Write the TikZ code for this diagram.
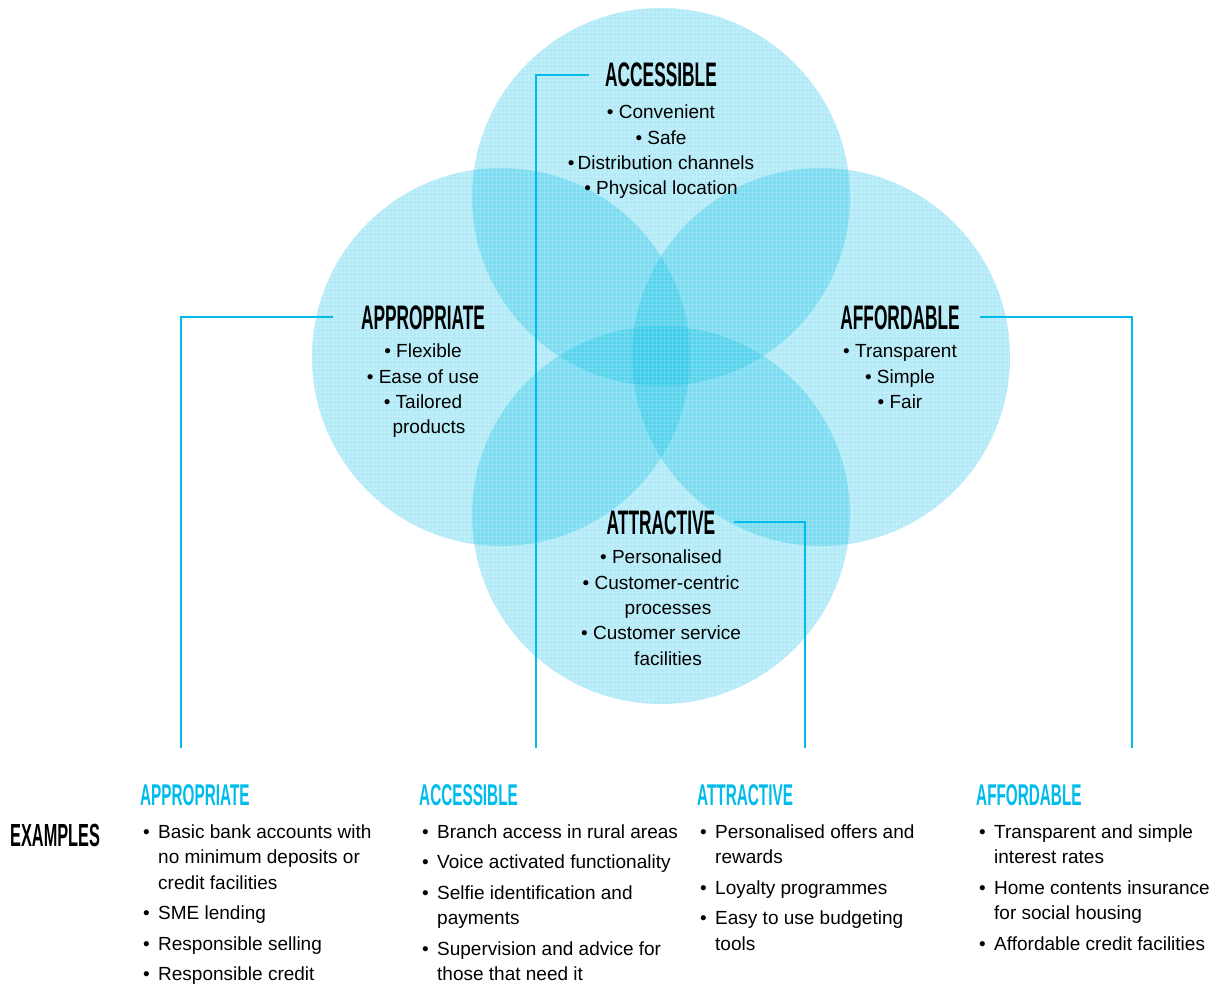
\documentclass[tikz,border=0pt]{standalone}
\usepackage{fontspec}
\setmainfont{Liberation Sans}
\newfontfamily\headfont[FakeStretch=0.51]{Liberation Sans Bold}
\definecolor{venn}{RGB}{0,186,228}
\definecolor{linkcyan}{RGB}{0,188,235}
% bullet with its hanging gap, and the indent of a wrapped line
\newcommand\bul{\makebox[18pt][l]{\hspace{3pt}\textbullet}}
\newcommand\cont{\hspace*{18pt}}
\tikzset{
  ring/.style={fill=venn, fill opacity=0.3, draw=none},
  bighead/.style={inner sep=0pt, anchor=base, font=\headfont\fontsize{34}{34}\selectfont},
  smallhead/.style={inner sep=0pt, anchor=base west, text=linkcyan, font=\headfont\fontsize{30}{30}\selectfont},
  inner/.style={inner sep=0pt, anchor=north, align=center, font=\fontsize{19}{25.3}\selectfont},
  col/.style={inner sep=0pt, anchor=north west, align=left, font=\fontsize{19}{25.5}\selectfont},
  link/.style={draw=linkcyan, line width=2.2pt}
}
\begin{document}
\begin{tikzpicture}[x=1pt,y=-1pt]
\useasboundingbox (0,0) rectangle (1225,987);

% four overlapping circles
\fill[ring] (661,197) circle (189);
\fill[ring] (501,357) circle (189);
\fill[ring] (821,357) circle (189);
\fill[ring] (661,515) circle (189);

% fine screen texture over the circles
\begin{scope}
  \clip (661,197) circle (189) (501,357) circle (189) (821,357) circle (189) (661,515) circle (189);
  \draw[white, opacity=0.2, line width=0.6pt, step=4pt] (300,0) grid (1020,710);
\end{scope}

% headings inside the circles
\node[bighead] (hAcc) at (661,87) {ACCESSIBLE};
\node[bighead] (hApp) at (423,329) {APPROPRIATE};
\node[bighead] (hAff) at (900,329) {AFFORDABLE};
\node[bighead] (hAtt) at (661,534) {ATTRACTIVE};

% bullet points inside the circles
\node[inner] (tAcc) at (661,101) {\strut\textbullet{} Convenient\\ \textbullet{} Safe\\ \textbullet\,Distribution channels\\ \textbullet{} Physical location};
\node[inner] (tApp) at (423,340) {\strut\textbullet{} Flexible\\ \textbullet{} Ease of use\\ \textbullet{} Tailored\\ \hspace*{12pt}products};
\node[inner] (tAff) at (900,340) {\strut\textbullet{} Transparent\\ \textbullet{} Simple\\ \textbullet{} Fair};
\node[inner] (tAtt) at (661,546) {\strut\textbullet{} Personalised\\ \textbullet{} Customer-centric\\ \hspace*{14pt}processes\\ \textbullet{} Customer service\\ \hspace*{14pt}facilities};

% column anchors at the bottom
\coordinate (eApp) at (181,748);
\coordinate (eAcc) at (536,748);
\coordinate (eAtt) at (805,748);
\coordinate (eAff) at (1132,748);

% start points of the connectors, just beside each heading
\coordinate (sAcc) at ([xshift=-16pt]hAcc.west);
\coordinate (sApp) at ([xshift=-28pt]hApp.west);
\coordinate (sAff) at ([xshift=20pt]hAff.east);
\coordinate (sAtt) at ([xshift=19pt]hAtt.east);

% connectors
\draw[link] (sAcc) -- (sAcc -| eAcc) -- (eAcc);
\draw[link] (sApp) -- (sApp -| eApp) -- (eApp);
\draw[link] (sAff) -- (sAff -| eAff) -- (eAff);
\draw[link] (sAtt) -- (sAtt -| eAtt) -- (eAtt);

% examples
\node[inner sep=0pt, anchor=base west, font=\headfont\fontsize{32}{32}\selectfont] (ex) at (10,846) {EXAMPLES};

\node[smallhead] (bApp) at (140,805) {APPROPRIATE};
\node[smallhead] (bAcc) at (419,805) {ACCESSIBLE};
\node[smallhead] (bAtt) at (697,805) {ATTRACTIVE};
\node[smallhead] (bAff) at (976,805) {AFFORDABLE};

\node[col] (lApp) at (140,820) {\strut\bul Basic bank accounts with\\ \cont no minimum deposits or\\ \cont credit facilities\\[5pt]
  \bul SME lending\\[5pt] \bul Responsible selling\\[5pt] \bul Responsible credit};
\node[col] (lAcc) at (419,820) {\strut\bul Branch access in rural areas\\[5pt]
  \bul Voice activated functionality\\[5pt]
  \bul Selfie identification and\\ \cont payments\\[5pt]
  \bul Supervision and advice for\\ \cont those that need it};
\node[col] (lAtt) at (697,820) {\strut\bul Personalised offers and\\ \cont rewards\\[5pt]
  \bul Loyalty programmes\\[5pt]
  \bul Easy to use budgeting\\ \cont tools};
\node[col] (lAff) at (976,820) {\strut\bul Transparent and simple\\ \cont interest rates\\[5pt]
  \bul Home contents insurance\\ \cont for social housing\\[5pt]
  \bul Affordable credit facilities};
\end{tikzpicture}
\end{document}
